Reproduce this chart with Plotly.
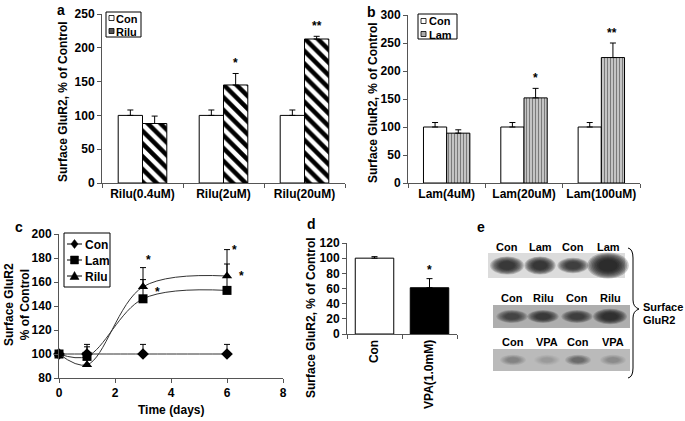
import plotly.graph_objects as go

# ---------------- data ----------------
a_cats = ["Rilu(0.4uM)", "Rilu(2uM)", "Rilu(20uM)"]
a_con = [100, 100, 100]
a_con_err = [8, 8, 8]
a_rilu = [88, 145, 213]
a_rilu_err = [11, 17, 4]
a_sig = ["", "*", "**"]

b_cats = ["Lam(4uM)", "Lam(20uM)", "Lam(100uM)"]
b_con = [100, 100, 100]
b_con_err = [8, 8, 8]
b_lam = [89, 152, 224]
b_lam_err = [6, 17, 26]
b_sig = ["", "*", "**"]

c_days = [0, 1, 3, 6]
c_con = [100, 100, 100, 100]
c_con_err = [0, 8, 8, 8]
c_lam = [100, 98, 146, 153]
c_lam_err = [0, 8, 16, 22]
c_rilu = [100, 91, 156, 165]
c_rilu_err = [0, 10, 16, 22]
c_star_x = [3.2, 3.5, 6.25, 6.5]
c_star_y = [178, 152, 187, 165]

d_cats = ["Con", "VPA(1.0mM)"]
d_vals = [100, 61]
d_err = [2, 12]
d_sig = ["", "*"]

e_row_labels = [["Con", "Lam", "Con", "Lam"],
                 ["Con", "Rilu", "Con", "Rilu"],
                 ["Con", "VPA", "Con", "VPA"]]
e_row_intensity = [[0.85, 0.88, 0.80, 1.00],
                   [0.60, 0.72, 0.66, 0.85],
                   [0.22, 0.08, 0.35, 0.18]]

# ---------------- helpers ----------------
W, H = 685, 421
FONT = "Liberation Sans, Arial, sans-serif"
AX = "#555555"


def px(x):
    return x / W


def py(y):
    return 1 - y / H


fig = go.Figure()

err_kw = dict(type="data", symmetric=False, color="black", thickness=1, width=3)

# ---- panel a ----
fig.add_trace(go.Bar(x=a_cats, y=a_con, name="Con", xaxis="x", yaxis="y",
                     marker=dict(color="white", line=dict(color="black", width=1)),
                     error_y=dict(array=a_con_err, arrayminus=[0] * 3, **err_kw),
                     showlegend=False))
fig.add_trace(go.Bar(x=a_cats, y=a_rilu, name="Rilu", xaxis="x", yaxis="y",
                     marker=dict(color="white", line=dict(color="black", width=1),
                                 pattern=dict(shape="\\", fgcolor="black", bgcolor="white",
                                              size=9, solidity=0.5, fgopacity=1)),
                     error_y=dict(array=a_rilu_err, arrayminus=[0] * 3, **err_kw),
                     showlegend=False))

# ---- panel b ----
fig.add_trace(go.Bar(x=b_cats, y=b_con, name="Con", xaxis="x2", yaxis="y2",
                     marker=dict(color="white", line=dict(color="black", width=1)),
                     error_y=dict(array=b_con_err, arrayminus=[0] * 3, **err_kw),
                     showlegend=False))
fig.add_trace(go.Bar(x=b_cats, y=b_lam, name="Lam", xaxis="x2", yaxis="y2",
                     marker=dict(color="#d0d0d0", line=dict(color="black", width=1),
                                 pattern=dict(shape="|", fgcolor="#7a7a7a", bgcolor="#d4d4d4",
                                              size=3, solidity=0.45)),
                     error_y=dict(array=b_lam_err, arrayminus=[0] * 3, **err_kw),
                     showlegend=False))

# ---- panel c ----
for vals, errs, sym, nm in [(c_con, c_con_err, "diamond", "Con"),
                            (c_lam, c_lam_err, "square", "Lam"),
                            (c_rilu, c_rilu_err, "triangle-up", "Rilu")]:
    fig.add_trace(go.Scatter(x=c_days, y=vals, name=nm, xaxis="x3", yaxis="y3",
                             mode="lines+markers",
                             line=dict(color="#333333", width=1, shape="spline", smoothing=1.0),
                             marker=dict(symbol=sym, color="black", size=9),
                             error_y=dict(array=errs, arrayminus=[0] * 4, **err_kw),
                             cliponaxis=False, showlegend=False))

# ---- panel d ----
fig.add_trace(go.Bar(x=d_cats, y=d_vals, xaxis="x4", yaxis="y4", width=0.7,
                     marker=dict(color=["white", "black"], line=dict(color="black", width=1)),
                     error_y=dict(array=d_err, arrayminus=[0] * 2, **err_kw),
                     showlegend=False))

tickfont = dict(family=FONT, size=12, color="black", weight="bold")
axis_common = dict(showline=True, linecolor=AX, linewidth=1, ticks="outside",
                   tickcolor=AX, ticklen=4, showgrid=False, zeroline=False,
                   tickfont=tickfont, fixedrange=True, automargin=False)

fig.update_layout(
    template="none",
    width=W, height=H, margin=dict(l=0, r=0, t=0, b=0, pad=0, autoexpand=False),
    paper_bgcolor="white", plot_bgcolor="rgba(0,0,0,0)",
    barmode="group", bargap=0.4, bargroupgap=0, showlegend=False,
    font=dict(family=FONT, color="black"),
    xaxis=dict(domain=[px(102), px(345)], anchor="y", type="category",
               tickson="boundaries", tickangle=0, **axis_common),
    yaxis=dict(domain=[py(183), py(14)], anchor="x", range=[0, 250], dtick=50, **axis_common),
    xaxis2=dict(domain=[px(408), px(640)], anchor="y2", type="category",
                tickson="boundaries", tickangle=0, **axis_common),
    yaxis2=dict(domain=[py(183), py(15)], anchor="x2", range=[0, 300], dtick=50, **axis_common),
    xaxis3=dict(domain=[px(59), px(283)], anchor="y3", range=[0, 8], dtick=2, **axis_common),
    yaxis3=dict(domain=[py(378), py(234)], anchor="x3", range=[80, 200], dtick=20, **axis_common),
    xaxis4=dict(domain=[px(347), px(457)], anchor="y4", type="category",
                tickson="boundaries", tickangle=-90, **axis_common),
    yaxis4=dict(domain=[py(334), py(243)], anchor="x4", range=[0, 120], dtick=20, **axis_common),
)

ann = []
shapes = []


def text(x, y, s, size=12, angle=0, xanchor="center", yanchor="middle", **kw):
    ann.append(dict(x=px(x), y=py(y), xref="paper", yref="paper", text=s, showarrow=False,
                    textangle=angle, xanchor=xanchor, yanchor=yanchor, borderpad=0,
                    font=dict(family=FONT, size=size, color="black", weight="bold"), **kw))


# panel letters
text(61, 10, "a", 14)
text(371, 12, "b", 14)
text(19, 227, "c", 14)
text(311, 224, "d", 14)
text(481, 227, "e", 14)

# axis titles
text(63, 101, "Surface GluR2, % of Control", 12, -90)
text(373, 103, "Surface GluR2, % of Control", 12, -90)
text(17, 305, "Surface GluR2<br>% of Control", 12, -90)
text(311, 318, "Surface GluR2, % of Control", 12, -90)
text(171, 410, "Time (days)", 12)

# significance stars (data coordinates)
star_font = dict(family=FONT, size=12, weight="bold", color="black")
for cat, v, e, s in zip(a_cats, a_rilu, a_rilu_err, a_sig):
    if s:
        ann.append(dict(x=cat, y=v + e, xref="x", yref="y", text=s, showarrow=False,
                        xshift=12, yanchor="bottom", yshift=1, font=star_font))
for cat, v, e, s in zip(b_cats, b_lam, b_lam_err, b_sig):
    if s:
        ann.append(dict(x=cat, y=v + e, xref="x2", yref="y2", text=s, showarrow=False,
                        xshift=11, yanchor="bottom", yshift=1, font=star_font))
for cat, v, e, s in zip(d_cats, d_vals, d_err, d_sig):
    if s:
        ann.append(dict(x=cat, y=v + e, xref="x4", yref="y4", text=s, showarrow=False,
                        yanchor="bottom", yshift=0, font=star_font))
for sx, sy in zip(c_star_x, c_star_y):
    ann.append(dict(x=sx, y=sy, xref="x3", yref="y3", text="*", showarrow=False, font=star_font))

# ---- manual legends ----
# panel a
shapes.append(dict(type="rect", xref="paper", yref="paper", x0=px(106), x1=px(141), y0=py(37), y1=py(12),
                   line=dict(color="black", width=1), fillcolor="white"))
shapes.append(dict(type="rect", xref="paper", yref="paper", x0=px(109), x1=px(114), y0=py(20.5), y1=py(15.5),
                   line=dict(color="black", width=0.8), fillcolor="white"))
shapes.append(dict(type="rect", xref="paper", yref="paper", x0=px(109), x1=px(114), y0=py(33.5), y1=py(28.5),
                   line=dict(color="black", width=0.8), fillcolor="#555555"))
text(115, 18, "Con", 11, xanchor="left", height=11)
text(115, 31, "Rilu", 11, xanchor="left", height=11)
# panel b
shapes.append(dict(type="rect", xref="paper", yref="paper", x0=px(418), x1=px(457), y0=py(39), y1=py(14)
                   , line=dict(color="black", width=1), fillcolor="white"))
shapes.append(dict(type="rect", xref="paper", yref="paper", x0=px(421), x1=px(426), y0=py(23.5), y1=py(18.5),
                   line=dict(color="black", width=0.8), fillcolor="white"))
shapes.append(dict(type="rect", xref="paper", yref="paper", x0=px(421), x1=px(426), y0=py(36.5), y1=py(31.5),
                   line=dict(color="black", width=0.8), fillcolor="#aaaaaa"))
text(428, 21, "Con", 11, xanchor="left", height=11)
text(428, 34, "Lam", 11, xanchor="left", height=11)
# panel c
shapes.append(dict(type="rect", xref="paper", yref="paper", x0=px(64), x1=px(110), y0=py(287), y1=py(233),
                   line=dict(color="black", width=1), fillcolor="white"))
for i, (nm, sym) in enumerate([("Con", "diamond"), ("Lam", "square"), ("Rilu", "triangle-up")]):
    yy = 244 + i * 16
    shapes.append(dict(type="line", xref="paper", yref="paper", x0=px(67), x1=px(82), y0=py(yy), y1=py(yy),
                       line=dict(color="black", width=1)))
    cx = 74.5
    if sym == "diamond":
        path = f"M {px(cx)},{py(yy-4.5)} L {px(cx+3.5)},{py(yy)} L {px(cx)},{py(yy+4.5)} L {px(cx-3.5)},{py(yy)} Z"
    elif sym == "square":
        path = f"M {px(cx-4)},{py(yy-4)} L {px(cx+4)},{py(yy-4)} L {px(cx+4)},{py(yy+4)} L {px(cx-4)},{py(yy+4)} Z"
    else:
        path = f"M {px(cx)},{py(yy-4.5)} L {px(cx+4.5)},{py(yy+3.5)} L {px(cx-4.5)},{py(yy+3.5)} Z"
    shapes.append(dict(type="path", xref="paper", yref="paper", path=path,
                       fillcolor="black", line=dict(color="black", width=0.5)))
    text(84, yy, nm, 12, xanchor="left", height=13)

# ---- panel e : western blot ----
row_boxes = [(488, 625, 253, 278), (493, 630, 305, 328), (493, 630, 349, 371)]
row_bg = ["#dcdcdc", "#aeaeae", "#bababa"]
lane_x = [[507, 540, 573, 608], [512, 543, 577, 610], [513, 547, 578, 613]]
label_y = [247, 298, 342]
band_hw = [[13, 12, 12, 16], [12, 12, 12, 13], [10, 10, 10, 10]]
band_hh = [[7, 7, 6, 10], [5, 5, 5, 6], [4, 4, 4, 4]]
for r in range(3):
    x0, x1, y0, y1 = row_boxes[r]
    shapes.append(dict(type="rect", xref="paper", yref="paper", x0=px(x0), x1=px(x1), y0=py(y1), y1=py(y0),
                       line=dict(width=0), fillcolor=row_bg[r]))
    yc = (y0 + y1) / 2
    for k in range(4):
        inten = e_row_intensity[r][k]
        hw, hh = band_hw[r][k], band_hh[r][k]
        for j in range(8):
            s = 1.3 - j * 0.1
            shapes.append(dict(type="circle", xref="paper", yref="paper",
                               x0=px(lane_x[r][k] - hw * s), x1=px(lane_x[r][k] + hw * s),
                               y0=py(yc + hh * s), y1=py(yc - hh * s),
                               line=dict(width=0), fillcolor=f"rgba(20,20,20,{0.22 * inten:.3f})"))
        text(lane_x[r][k], label_y[r], e_row_labels[r][k], 11)

# brace
bx, tip = 633, 639
brace = (f"M {px(bx-5)},{py(248)} Q {px(bx)},{py(249)} {px(bx)},{py(258)} "
         f"L {px(bx)},{py(300)} Q {px(bx)},{py(307)} {px(tip)},{py(309)} "
         f"Q {px(bx)},{py(311)} {px(bx)},{py(318)} L {px(bx)},{py(368)} "
         f"Q {px(bx)},{py(377)} {px(bx-5)},{py(378)}")
shapes.append(dict(type="path", xref="paper", yref="paper", path=brace,
                   line=dict(color="black", width=1)))
text(642, 307, "Surface", 11, xanchor="left")
text(642, 320, "GluR2", 11, xanchor="left")

fig.update_layout(annotations=ann, shapes=shapes)
fig.write_html("out.html", config={"displayModeBar": False},
               post_script="document.body.style.margin='0';document.body.style.padding='0';"
                           "document.body.style.overflow='hidden';")
